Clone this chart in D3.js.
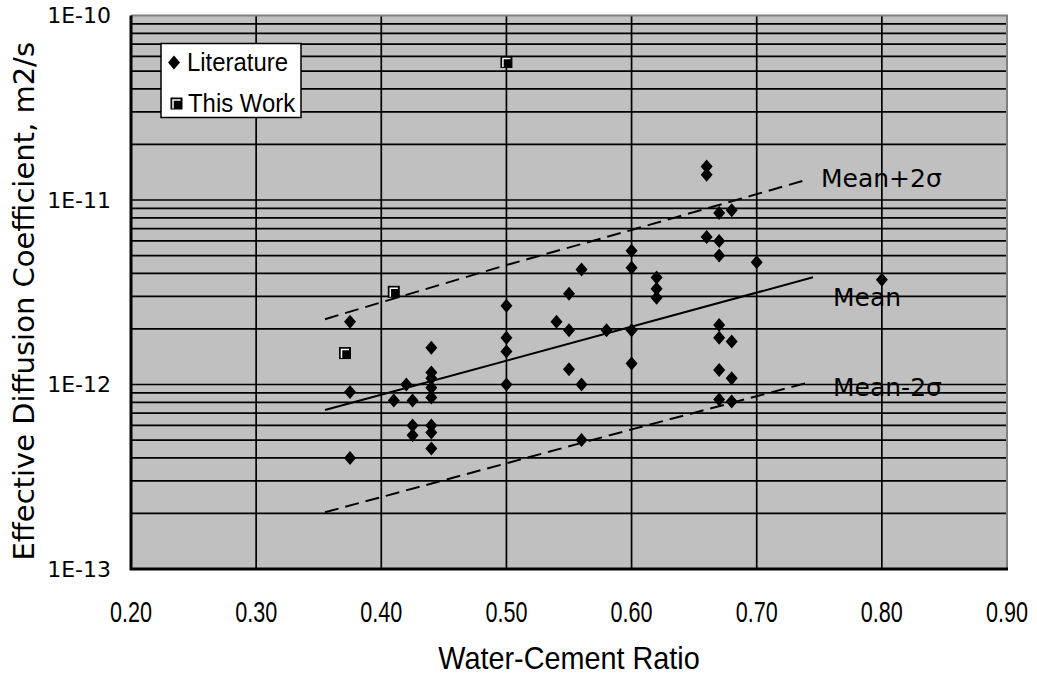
<!DOCTYPE html>
<html>
<head>
<meta charset="utf-8">
<script src="https://cdn.jsdelivr.net/npm/d3@7/dist/d3.min.js"></script>
<style>
  html, body { margin: 0; padding: 0; background: #ffffff; }
  svg { display: block; }
</style>
</head>
<body>
<svg id="chart" width="1037" height="675"></svg>
<script>
// Literature data: water-cement ratio vs effective diffusion coefficient (m2/s)
const litX = [0.375, 0.375, 0.375, 0.42, 0.41, 0.425, 0.44, 0.44, 0.44, 0.44,
              0.44, 0.425, 0.425, 0.44, 0.44, 0.44, 0.50, 0.50, 0.50, 0.50,
              0.66, 0.66, 0.67, 0.68, 0.66, 0.67, 0.67, 0.70, 0.60, 0.60,
              0.62, 0.62, 0.62, 0.56, 0.55, 0.54, 0.55, 0.58, 0.60, 0.67,
              0.67, 0.68, 0.60, 0.67, 0.68, 0.67, 0.68, 0.80, 0.55, 0.56,
              0.56];
const litY = [2.19e-12, 9.1e-13, 4.0e-13, 1.0e-12, 8.2e-13, 8.2e-13, 1.58e-12, 1.16e-12, 1.08e-12, 9.6e-13,
              8.5e-13, 6.0e-13, 5.3e-13, 6.0e-13, 5.5e-13, 4.5e-13, 2.67e-12, 1.79e-12, 1.51e-12, 1.0e-12,
              1.52e-11, 1.37e-11, 8.5e-12, 8.8e-12, 6.3e-12, 6.0e-12, 5.0e-12, 4.6e-12, 5.3e-12, 4.3e-12,
              3.8e-12, 3.3e-12, 2.95e-12, 4.2e-12, 3.1e-12, 2.19e-12, 1.97e-12, 1.97e-12, 1.97e-12, 2.1e-12,
              1.79e-12, 1.71e-12, 1.3e-12, 1.2e-12, 1.08e-12, 8.3e-13, 8.1e-13, 3.7e-12, 1.21e-12, 1.0e-12,
              5.0e-13];

// This work
const workX = [0.371, 0.41, 0.50];
const workY = [1.48e-12, 3.18e-12, 5.6e-11];

// Regression line and +/- 2 sigma bands
const meanX = [0.355, 0.745];
const meanY = [7.27e-13, 3.81e-12];
const upperX = [0.355, 0.50, 0.60, 0.737];
const upperY = [2.26e-12, 4.44e-12, 6.88e-12, 1.27e-11];
const lowerX = [0.355, 0.50, 0.60, 0.74];
const lowerY = [2.03e-13, 3.74e-13, 5.71e-13, 1.02e-12];

// Axis ticks
const xTicks = [0.2, 0.3, 0.4, 0.5, 0.6, 0.7, 0.8, 0.9];
const xTickLabels = ["0.20", "0.30", "0.40", "0.50", "0.60", "0.70", "0.80", "0.90"];
const yTicks = [1e-13, 1e-12, 1e-11, 1e-10];
const yTickLabels = ["1E-13", "1E-12", "1E-11", "1E-10"];

const plotLeft = 131, plotRight = 1007, plotTop = 15.5, plotBottom = 569;
const narrowFont = "'Liberation Sans', Arial, sans-serif";

const svg = d3.select("#chart");
const x = d3.scaleLinear().domain([0.2, 0.9]).range([plotLeft, plotRight]);
const y = d3.scaleLog().domain([1e-13, 1e-10]).range([plotBottom, plotTop]);

// Plot area
svg.append("rect")
  .attr("x", plotLeft).attr("y", plotTop)
  .attr("width", plotRight - plotLeft).attr("height", plotBottom - plotTop)
  .attr("fill", "#c0c0c0");

// Horizontal gridlines at every minor log step
const yGrid = y.ticks().filter(v => v > 1.0001e-13 && v < 0.9999e-10);
svg.append("g")
  .selectAll("line").data(yGrid).join("line")
  .attr("x1", plotLeft).attr("x2", plotRight)
  .attr("y1", d => y(d)).attr("y2", d => y(d))
  .attr("stroke", "#000").attr("stroke-width", 1.7);

// Vertical gridlines
svg.append("g")
  .selectAll("line").data(xTicks.slice(1, -1)).join("line")
  .attr("x1", d => x(d)).attr("x2", d => x(d))
  .attr("y1", plotTop).attr("y2", plotBottom)
  .attr("stroke", "#000").attr("stroke-width", 1.7);

// Frame: grey top/right, black bottom/left
svg.append("path")
  .attr("d", `M${plotLeft},${plotTop}H${plotRight}V${plotBottom}`)
  .attr("fill", "none").attr("stroke", "#808080").attr("stroke-width", 2);
svg.append("path")
  .attr("d", `M${plotLeft},${plotTop}V${plotBottom}H${plotRight + 1}`)
  .attr("fill", "none").attr("stroke", "#000").attr("stroke-width", 3);

// X tick labels: condensed lettering
svg.append("g").selectAll("text").data(xTicks).join("text")
  .attr("transform", d => `translate(${x(d)},622) scale(0.72,1)`)
  .attr("text-anchor", "middle")
  .attr("font-family", narrowFont)
  .attr("font-size", 30).attr("fill", "#000")
  .text((d, i) => xTickLabels[i]);

// Y tick labels via a left axis (tick lines and domain hidden)
const yAxis = svg.append("g")
  .attr("transform", `translate(${plotLeft},0)`)
  .call(d3.axisLeft(y).tickValues(yTicks).tickFormat((d, i) => yTickLabels[i]).tickSize(0).tickPadding(20));
yAxis.select(".domain").remove();
yAxis.selectAll("text")
  .attr("font-family", "'DejaVu Sans', sans-serif")
  .attr("font-size", 22).attr("fill", "#000");

// Axis titles
svg.append("text")
  .attr("transform", `translate(${(plotLeft + plotRight) / 2},669) scale(0.9,1)`)
  .attr("text-anchor", "middle")
  .attr("font-family", narrowFont)
  .attr("font-size", 32).attr("fill", "#000")
  .text("Water-Cement Ratio");

svg.append("text")
  .attr("transform", `translate(34,${(plotTop + plotBottom) / 2 + 9}) rotate(-90)`)
  .attr("text-anchor", "middle")
  .attr("font-family", "'DejaVu Sans', sans-serif")
  .attr("font-size", 29).attr("fill", "#000")
  .text("Effective Diffusion Coefficient, m2/s");

// Lines
const line = d3.line().x(d => x(d[0])).y(d => y(d[1]));
const zip = (a, b) => a.map((v, i) => [v, b[i]]);

svg.append("path").attr("d", line(zip(meanX, meanY)))
  .attr("fill", "none").attr("stroke", "#000").attr("stroke-width", 2);
svg.append("path").attr("d", line(zip(upperX, upperY)))
  .attr("fill", "none").attr("stroke", "#000").attr("stroke-width", 2)
  .attr("stroke-dasharray", "14,7");
svg.append("path").attr("d", line(zip(lowerX, lowerY)))
  .attr("fill", "none").attr("stroke", "#000").attr("stroke-width", 2)
  .attr("stroke-dasharray", "14,7");

// Line labels
const lineLabels = [
  { text: "Mean+2\u03c3", x: 821, y: 187 },
  { text: "Mean", x: 833, y: 306 },
  { text: "Mean-2\u03c3", x: 833, y: 396 }
];
svg.append("g").selectAll("text").data(lineLabels).join("text")
  .attr("x", d => d.x).attr("y", d => d.y)
  .attr("font-family", "'DejaVu Sans', sans-serif")
  .attr("font-size", 25).attr("fill", "#000")
  .text(d => d.text);

// Markers
const diamond = "M0,-7L6,0L0,7L-6,0Z";
function squareMarker(g) {
  g.append("rect").attr("x", -6).attr("y", -6).attr("width", 12).attr("height", 12).attr("fill", "#000");
  g.append("path").attr("d", "M-3.5,5V-3.5H4").attr("fill", "none")
    .attr("stroke", "#fff").attr("stroke-width", 1.5);
}

svg.append("g").selectAll("path").data(zip(litX, litY)).join("path")
  .attr("d", diamond)
  .attr("transform", d => `translate(${x(d[0])},${y(d[1])})`)
  .attr("fill", "#000");

svg.append("g").selectAll("g").data(zip(workX, workY)).join("g")
  .attr("transform", d => `translate(${x(d[0])},${y(d[1])})`)
  .each(function () { squareMarker(d3.select(this)); });

// Legend
const legend = svg.append("g");
legend.append("rect")
  .attr("x", 161).attr("y", 43.5).attr("width", 140).attr("height", 74)
  .attr("fill", "#fff").attr("stroke", "#000").attr("stroke-width", 1.5);
legend.append("path").attr("d", diamond)
  .attr("transform", "translate(174,62.5)").attr("fill", "#000");
legend.append("g").attr("transform", "translate(176.5,103.5)")
  .each(function () { squareMarker(d3.select(this)); });
legend.append("text").attr("transform", "translate(187,71) scale(0.92,1)")
  .attr("font-family", narrowFont)
  .attr("font-size", 26).attr("fill", "#000").text("Literature");
legend.append("text").attr("transform", "translate(188,112) scale(0.92,1)")
  .attr("font-family", narrowFont)
  .attr("font-size", 26).attr("fill", "#000").text("This Work");
</script>
</body>
</html>
